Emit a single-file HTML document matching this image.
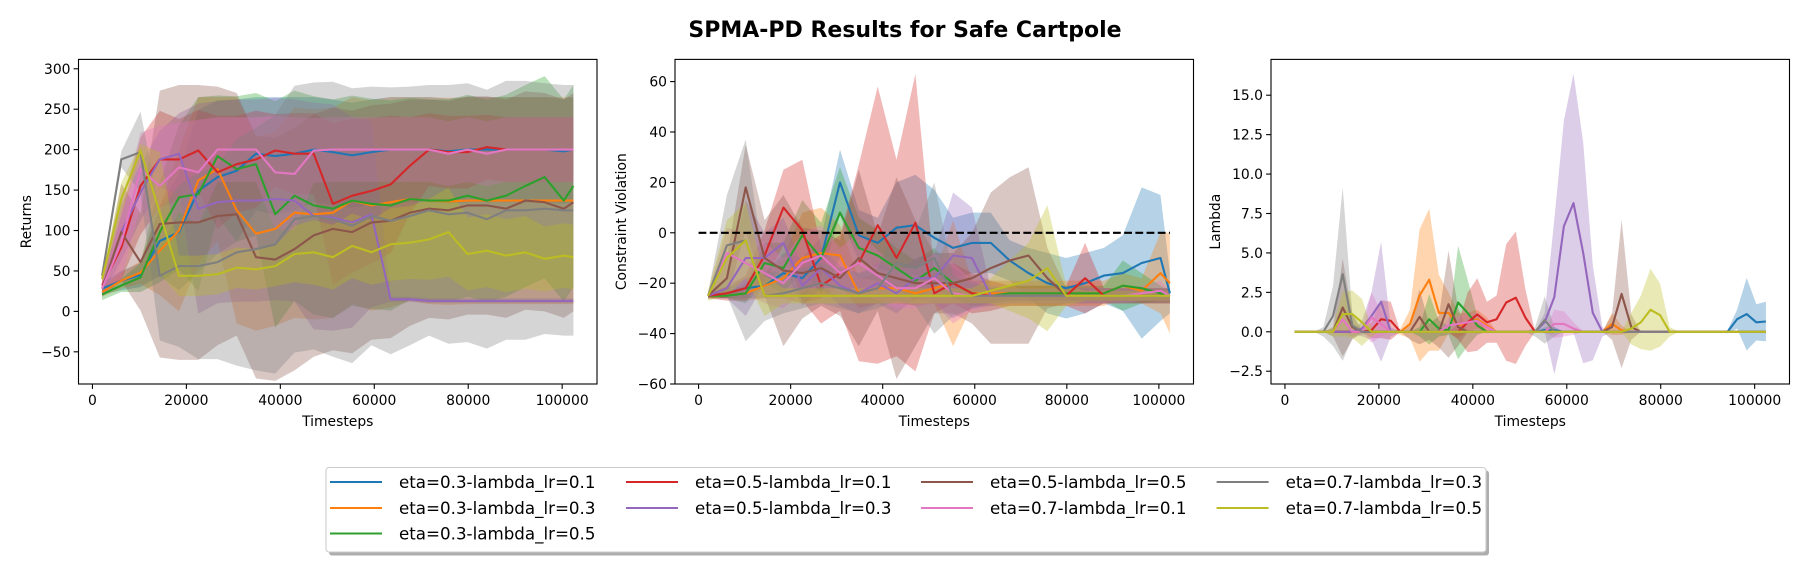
<!DOCTYPE html>
<html><head><meta charset="utf-8"><style>
html,body{margin:0;padding:0;background:#fff;}
svg{display:block;font-family:"DejaVu Sans","Liberation Sans",sans-serif;}
</style></head><body>
<svg id="fig" width="1810" height="571" viewBox="0 0 1810 571" xmlns="http://www.w3.org/2000/svg">
<rect width="1810" height="571" fill="#fff"/>
<text x="905" y="37" text-anchor="middle" font-size="22" font-weight="bold">SPMA-PD Results for Safe Cartpole</text>
</svg>
<script>
// ---------- shared data ----------
const seriesLabels = ["eta=0.3-lambda_lr=0.1","eta=0.3-lambda_lr=0.3","eta=0.3-lambda_lr=0.5","eta=0.5-lambda_lr=0.1","eta=0.5-lambda_lr=0.3","eta=0.5-lambda_lr=0.5","eta=0.7-lambda_lr=0.1","eta=0.7-lambda_lr=0.3","eta=0.7-lambda_lr=0.5"];
const seriesColors = ["#1f77b4","#ff7f0e","#2ca02c","#d62728","#9467bd","#8c564b","#e377c2","#7f7f7f","#bcbd22"];
const stepsCoarse = [2048,6144,10240,14336,18432,22528,26624,30720,34816,38912,43008,47104,51200,55296,59392,63488,67584,71680,75776,79872,83968,88064,92160,96256,100352,102400];
const stepsFine = [2048,4096,6144,8192,10240,12288,14336,16384,18432,20480,22528,24576,26624,28672,30720,32768,34816,36864,38912,40960,43008,45056,47104,49152,51200,53248,55296,57344,59392,61440,63488,65536,67584,69632,71680,73728,75776,77824,79872,81920,83968,86016,88064,90112,92160,94208,96256,98304,100352,102400];
const xTicks = [0,20000,40000,60000,80000,100000];

// ---------- Returns ----------
const retMean = [
[28,38,45,87,98,149,166,174,195,192,195,200,197,193,197,200,200,200,198,200,200,200,200,200,198,200],
[24,38,48,75,100,162,176,125,96,102,122,120,122,137,131,135,139,137,136,137,137,137,137,137,137,137],
[21,32,42,98,141,145,192,176,182,120,143,131,127,137,133,131,139,137,137,143,137,143,155,166,137,155],
[32,79,155,188,188,199,172,182,188,199,195,195,133,143,149,157,180,200,197,197,203,200,200,200,200,200],
[28,98,147,188,195,127,135,137,137,139,137,118,116,110,120,15,15,13,13,13,13,13,13,13,13,13],
[28,98,61,108,110,110,118,120,67,64,77,94,102,98,110,112,122,127,125,131,131,127,137,135,127,135],
[28,85,176,155,178,172,200,200,200,172,170,199,200,200,200,200,200,200,195,200,195,200,200,200,200,200],
[44,188,197,44,56,56,61,73,77,83,114,118,114,106,118,112,118,125,120,122,114,125,125,127,125,125],
[40,139,199,122,44,44,46,54,52,56,71,73,67,81,73,83,85,89,98,71,75,69,73,65,69,67]];
const retStd = [
[7,12,15,43,72,100,95,88,70,73,70,65,65,65,65,65,65,65,65,65,65,65,65,65,65,65],
[6,10,14,55,100,103,89,140,120,120,130,130,130,128,130,130,126,128,128,128,128,128,128,128,128,128],
[7,8,18,62,89,120,75,90,88,140,130,135,135,130,130,130,125,125,125,125,125,125,125,125,125,125],
[8,40,60,60,50,50,70,60,60,45,50,50,100,95,90,85,60,45,45,45,40,40,40,40,40,40],
[8,35,35,35,50,130,125,125,125,125,125,140,140,130,115,3,3,3,3,3,3,3,3,3,3,3],
[10,60,60,165,170,170,160,150,150,150,150,150,150,150,145,145,140,135,135,135,135,135,135,135,135,135],
[8,45,45,75,55,65,40,40,40,70,70,40,40,40,40,40,40,40,40,40,40,40,40,40,40,40],
[5,10,50,80,100,115,120,140,150,160,165,165,170,170,160,165,160,155,160,160,160,160,160,155,155,155],
[5,20,8,75,25,25,25,25,25,25,35,40,40,40,40,45,45,50,55,45,45,45,45,40,40,40]];
const retTicks = [-50,0,50,100,150,200,250,300];

// ---------- Constraint violation ----------
const cvMean = [
[-25,-24,-22,-21,-16,-18,-10,20,-1,-4,2,3,-2,-6,-4,-4,-11,-16,-20,-22,-20,-17,-16,-12,-10,-24],
[-25,-25,-24,-21,-18,-10,-8,-9,-24,-22,-22,-24,-22,-20,-24,-24,-24,-24,-24,-24,-24,-24,-21,-23,-16,-20],
[-25,-25,-24,-12,-14,-1,-10,8,-6,-9,-14,-19,-14,-20,-24,-25,-24,-24,-24,-24,-24,-24,-21,-22,-24,-25],
[-25,-24,-22,-9,10,1,-21,-16,-12,3,-10,4,-24,-20,-24,-25,-25,-25,-25,-25,-18,-25,-25,-25,-25,-25],
[-25,-22,-10,-10,-4,-21,-14,-21,-24,-20,-24,-18,-18,-9,-10,-25,-25,-25,-25,-25,-25,-25,-25,-25,-25,-25],
[-25,-18,18,-10,-15,-16,-14,-18,-10,-16,-18,-20,-20,-20,-18,-14,-11,-9,-18,-25,-25,-25,-25,-25,-25,-25],
[-25,-8,-12,-16,-20,-12,-9,-16,-12,-17,-22,-22,-18,-24,-25,-25,-25,-25,-25,-25,-25,-25,-25,-24,-23,-25],
[-25,-5,-3,-25,-24,-22,-20,-22,-24,-22,-12,-14,-10,-25,-25,-25,-25,-25,-25,-25,-25,-25,-25,-25,-25,-25],
[-25,-10,-3,-25,-25,-25,-25,-25,-25,-25,-25,-25,-25,-25,-25,-23,-21,-19,-14,-25,-25,-25,-25,-25,-25,-25]];
const cvStd = [
[1,2,4,5,8,8,8,13,10,10,18,20,19,12,12,12,8,10,12,12,12,11,15,30,25,8],
[1,1,3,5,8,18,18,12,6,6,6,5,6,25,5,5,5,5,5,5,5,5,5,5,16,20],
[1,1,4,8,10,14,14,18,12,10,8,8,8,6,5,3,3,3,3,3,3,3,10,6,3,2],
[1,3,5,10,15,28,15,15,39,55,39,59,8,8,8,6,4,4,4,4,14,3,3,3,3,3],
[1,4,23,10,10,8,8,8,8,8,8,8,10,25,20,3,2,2,2,2,2,2,2,2,2,2],
[1,8,17,15,30,18,15,15,35,15,40,25,12,12,18,30,33,35,12,3,3,3,3,3,3,3],
[1,10,12,12,10,12,12,10,12,10,8,8,10,12,6,4,3,3,3,3,3,3,3,3,4,2],
[1,20,40,10,8,8,8,8,8,8,15,15,30,8,5,4,3,3,3,3,3,3,3,3,3,3],
[2,15,15,8,3,3,3,3,3,3,3,3,3,3,3,5,10,15,25,4,2,2,2,2,2,2]];
const cvTicks = [-60,-40,-20,0,20,40,60];
const cvThreshold = 0;

// ---------- Lambda ----------
const lamMean = [
[0,0,0,0,0,0,0,0,0,0, 0,0,0,0,0,0,0,0,0,0, 0,0,0,0,0,0,0.1,0.1,0,0, 0,0,0,0,0,0,0,0,0,0, 0,0,0,0,0,0,0.8,1.12,0.6,0.65],
[0,0,0,0,0,0,0,0,0,0, 0,0,0.5,2.3,3.3,1.2,1.2,0.4,0.6,0.8, 0.4,0,0,0,0,0,0,0,0,0, 0,0,0,0.5,0.1,0,0,0,0,0, 0,0,0,0,0,0,0,0,0,0],
[0,0,0,0,0,0,0,0,0,0, 0,0,0,0,0.8,0.2,0.1,1.86,1.2,0.4, 0,0,0,0,0,0,0,0,0,0, 0,0,0,0,0,0,0,0,0,0, 0,0,0,0,0,0,0,0,0,0],
[0,0,0,0,0,0,0,0,0.1,0.8, 0.7,0,0,0,0,0,0,0,0.6,1.1, 0.6,0.8,1.86,2.16,0.9,0,0,0,0,0, 0,0,0,0,0,0,0,0,0,0, 0,0,0,0,0,0,0,0,0,0],
[0,0,0,0,0,0,0,0.2,1.0,1.9, 0,0,0,0,0,0,0,0,0,0, 0,0,0,0,0,0,0.6,2.2,6.7,8.16, 5.0,1.2,0,0,0,0,0,0,0,0, 0,0,0,0,0,0,0,0,0,0],
[0,0,0,0,0,1.54,0.3,0,0,0, 0,0,0,0.95,0,0,1.75,0.3,0,0, 0,0,0,0,0,0,0,0,0,0, 0,0,0,0.3,2.4,0.3,0,0,0,0, 0,0,0,0,0,0,0,0,0,0],
[0,0,0,0,0,0.8,0,0,0.9,0.5, 0,0,0,0,0,0,0.4,0.5,0.6,0.7, 0.3,0,0,0,0,0,0,0.5,0.5,0.2, 0,0,0,0,0,0,0,0,0,0, 0,0,0,0,0,0,0,0,0,0],
[0,0,0,0,1.0,3.66,0.4,0,0,0, 0,0,0,0,0,0,0,0,0,0, 0,0,0,0,0,0,0.75,0,0,0, 0,0,0,0,0,0,0,0,0,0, 0,0,0,0,0,0,0,0,0,0],
[0,0,0,0,0,1.12,1.12,0.6,0,0, 0,0,0,0,0,0,0,0,0,0, 0,0,0,0,0,0,0,0,0,0, 0,0,0,0,0,0.2,0.6,1.4,1.05,0, 0,0,0,0,0,0,0,0,0,0]];
const lamStd = [
[0,0,0,0,0,0,0,0,0,0, 0,0,0,0,0,0,0,0,0,0, 0,0,0,0,0,0,0.2,0.2,0,0, 0,0,0,0,0,0,0,0,0,0, 0,0,0,0,0,0.1,0.6,2.3,1.15,1.25],
[0,0,0,0,0,0,0,0,0,0, 0,0.2,0.9,4.2,4.5,2.4,1.3,0.8,0.6,0.6, 0.5,0,0,0,0,0,0,0,0,0, 0,0,0,0.7,0.3,0,0,0,0,0, 0,0,0,0,0,0,0,0,0,0],
[0,0,0,0,0,0,0,0,0,0, 0,0,0,0.3,1.6,0.5,0.3,3.6,2.1,0.6, 0,0,0,0,0,0,0,0,0,0, 0,0,0,0,0,0,0,0,0,0, 0,0,0,0,0,0,0,0,0,0],
[0,0,0,0,0,0,0,0,0.5,1.2, 1.2,0,0,0,0,0,0,0.5,1.9,2.3, 1.3,1.5,3.7,4.2,1.8,0,0,0,0,0, 0,0,0,0,0,0,0,0,0,0, 0,0,0,0,0,0,0,0,0,0],
[0,0,0,0,0,0,0,0.5,1.5,3.8, 0.3,0,0,0,0,0,0,0,0,0, 0,0,0,0,0,0,0.6,4.9,6.7,8.2, 7.0,3.0,0.3,0,0,0,0,0,0,0, 0,0,0,0,0,0,0,0,0,0],
[0,0,0,0,0.3,3.1,0.8,0,0,0, 0,0,0.5,1.75,0.5,1.0,3.4,1.2,0,0, 0,0,0,0,0,0,0,0,0,0, 0,0,0,0.8,4.7,0.8,0,0,0,0, 0,0,0,0,0,0,0,0,0,0],
[0,0,0,0,0,0.85,0.3,0,1.6,0.8, 0,0,0,0,0,0,0.5,0.5,0.6,0.5, 0.4,0,0,0,0,0,0,0.9,0.8,0.4, 0,0,0,0,0,0,0,0,0,0, 0,0,0,0,0,0,0,0,0,0],
[0,0,0,0.3,1.9,5.5,0.8,0.2,0,0, 0,0,0,0,0,0,0,0,0,0, 0,0,0,0,0,0.3,1.5,0.3,0,0, 0,0,0,0,0,0,0,0,0,0, 0,0,0,0,0,0,0,0,0,0],
[0,0,0,0,0.3,1.4,1.5,1.5,0.3,0, 0,0,0,0,0,0,0,0,0,0, 0,0,0,0,0,0,0,0,0,0, 0,0,0,0,0,1.0,1.7,2.6,2.0,0.3, 0,0,0,0,0,0,0,0,0,0]];
const lamTicks = [-2.5,0,2.5,5,7.5,10,12.5,15];

// ---------- drawing ----------
const NS = "http://www.w3.org/2000/svg";
const svg = document.getElementById("fig");
function mk(tag, attrs, parent){
  const e = document.createElementNS(NS, tag);
  for (const k in attrs) e.setAttribute(k, attrs[k]);
  (parent||svg).appendChild(e);
  return e;
}
function fmt(v, dec){ const s = dec ? v.toFixed(1) : String(v); return s.replace("-", "\u2212"); }

function panel(cfg){
  const g = mk("g", {});
  
  
  const L=cfg.left, R=cfg.left+518.5, T=59.4, B=384;
  const sx = v => L + (v - cfg.xmin)/(cfg.xmax-cfg.xmin)*(R-L);
  const sy = v => B - (v - cfg.ymin)/(cfg.ymax-cfg.ymin)*(B-T);
  const clipId = cfg.name + "-clip";
  const cp = mk("clipPath", {id: clipId}, g);
  mk("rect", {x:L, y:T, width:R-L, height:B-T}, cp);
  const plot = mk("g", {"clip-path": "url(#"+clipId+")"}, g);
  const bands = mk("g", {}, plot);
  const lines = mk("g", {}, plot);
  for (let s=0; s<cfg.mean.length; s++){
    const m = cfg.mean[s], sd = cfg.std[s], xs = cfg.steps;
    let d = "";
    xs.forEach((x,i)=>{ d += (i?"L":"M") + sx(x).toFixed(1) + "," + sy(m[i]).toFixed(1); });
    const line = mk("path", {d:d, fill:"none", stroke:seriesColors[s], "stroke-width":2.1, "stroke-linejoin":"round"}, lines);
    
    
    let up = "", dn = "";
    xs.forEach((x,i)=>{ up += (i?"L":"M") + sx(x).toFixed(1) + "," + sy(m[i]+sd[i]).toFixed(1); });
    for (let i=xs.length-1;i>=0;i--){ dn += "L" + sx(xs[i]).toFixed(1) + "," + sy(m[i]-sd[i]).toFixed(1); }
    const band = mk("path", {d:up+dn+"Z", fill:seriesColors[s], "fill-opacity":0.33, stroke:"none"}, bands);
    
    
  }
  if (cfg.threshold !== undefined){
    const th = mk("line", {x1:sx(0), x2:sx(102400), y1:sy(cfg.threshold), y2:sy(cfg.threshold), stroke:"#000", "stroke-width":2.1, "stroke-dasharray":"7.8,3.4"}, plot);
    
    
  }
  const frame = mk("rect", {x:L, y:T, width:R-L, height:B-T, fill:"none", stroke:"#000", "stroke-width":1.1}, g);
  
  
  xTicks.forEach(t=>{
    const x = sx(t);
    mk("line", {x1:x, x2:x, y1:B, y2:B+4.9, stroke:"#000", "stroke-width":1.1}, g);
    const tl = mk("text", {x:x, y:B+21, "text-anchor":"middle", "font-size":13.9}, g);
    tl.textContent = fmt(t);
    
    
  });
  cfg.ticks.forEach(t=>{
    const y = sy(t);
    mk("line", {x1:L-4.9, x2:L, y1:y, y2:y, stroke:"#000", "stroke-width":1.1}, g);
    const tl = mk("text", {x:L-8, y:y+5, "text-anchor":"end", "font-size":13.9}, g);
    tl.textContent = fmt(t, cfg.dec);
    
    
  });
  const xl = mk("text", {x:(L+R)/2, y:426, "text-anchor":"middle", "font-size":13.9}, g);
  xl.textContent = "Timesteps";
  
  
  const yl = mk("text", {x:0, y:0, "text-anchor":"middle", "font-size":13.9, transform:"translate("+(cfg.ylabelX)+","+((T+B)/2)+") rotate(-90)"}, g);
  yl.textContent = cfg.ylabel;
  
  
}

panel({name:"returns-panel", left:78.5, xmin:-2970, xmax:107418, ymin:-89.8, ymax:311.6, steps:stepsCoarse, mean:retMean, std:retStd, ticks:retTicks, dec:false, ylabel:"Returns", ylabelX:31});
panel({name:"constraint-panel", left:675, xmin:-5120, xmax:107520, ymin:-60, ymax:68.8, steps:stepsCoarse, mean:cvMean, std:cvStd, ticks:cvTicks, dec:false, ylabel:"Constraint Violation", ylabelX:626, threshold:cvThreshold});
panel({name:"lambda-panel", left:1271, xmin:-2970, xmax:107418, ymin:-3.31, ymax:17.27, steps:stepsFine, mean:lamMean, std:lamStd, ticks:lamTicks, dec:true, ylabel:"Lambda", ylabelX:1220});

// ---------- legend ----------
const lg = mk("g", {});


mk("rect", {x:329, y:470.5, width:1160, height:85, rx:3, fill:"#999", "fill-opacity":0.8}, lg);
mk("rect", {x:326, y:467.5, width:1160, height:84.5, rx:3, fill:"#fff", stroke:"#ccc", "stroke-width":1.1}, lg);
const colX = [330, 626, 921, 1216.6];
const rowY = [482, 508, 533.5];
const colRows = [[0,1,2],[3,4],[5,6],[7,8]];
colRows.forEach((rows,c)=>{
  rows.forEach((s,r)=>{
    const e = mk("g", {}, lg);
    
    
    mk("line", {x1:colX[c], x2:colX[c]+52, y1:rowY[r], y2:rowY[r], stroke:seriesColors[s], "stroke-width":2.1}, e);
    const t = mk("text", {x:colX[c]+69, y:rowY[r]+6, "font-size":16.7}, e);
    t.textContent = seriesLabels[s];
  });
});
</script>
</body></html>
